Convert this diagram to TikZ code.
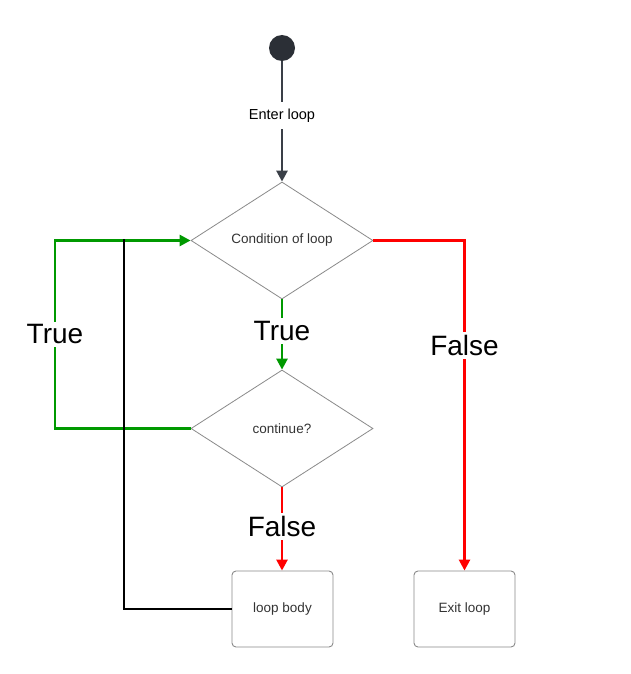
\documentclass[tikz,border=0pt]{standalone}
\usepackage{fontspec}
\setmainfont{Liberation Sans}
\usetikzlibrary{shapes.geometric,arrows.meta}
\definecolor{ink}{HTML}{3A3F47}
\definecolor{dot}{HTML}{2B2F36}
\definecolor{yes}{HTML}{009900}
\definecolor{no}{HTML}{FF0000}
\definecolor{outline}{HTML}{8A8A8A}
\definecolor{caption}{HTML}{333333}
\tikzset{
  decision/.style={diamond, draw=outline, line width=0.8pt, minimum width=182pt,
    minimum height=117pt, inner sep=0pt, font=\fontsize{13.5}{16}\selectfont, text=caption},
  action/.style={rectangle, rounded corners=4pt, draw=outline, line width=0.9pt,
    minimum width=101pt, minimum height=76pt, inner sep=0pt,
    font=\fontsize{13.5}{16}\selectfont, text=caption},
  flow/.style={line width=2.6pt, -{Triangle[length=11pt,width=11pt]}},
  bigtag/.style={fill=white, inner sep=3pt, font=\fontsize{28}{32}\selectfont, text=black},
  smalltag/.style={fill=white, inner sep=7pt, font=\fontsize{14.5}{17}\selectfont, text=black},
}
\begin{document}
\begin{tikzpicture}[x=1pt,y=-1pt]
\useasboundingbox[fill=white] (0,0) rectangle (630,674);

% nodes
\node[circle, fill=dot, minimum size=26pt, inner sep=0pt] (start) at (282,48) {};
\node[decision] (cond) at (282,240.5) {Condition of loop};
\node[decision] (cont) at (282,428.5) {continue?};
\node[action] (body) at (282.5,609) {loop body};
\node[action] (exit) at (464.5,609) {Exit loop};
\coordinate (leftturn) at (55,428.5);
\coordinate (backturn) at (124,609);

% entry
\draw[flow, ink] (start) -- node[smalltag, pos=0.45] {Enter loop} (cond.north);

% loop condition true -> continue?
\draw[flow, yes] (cond.south) -- node[bigtag, pos=0.45] {True} (cont.north);

% continue? true -> back to condition
\draw[flow, yes] (cont.west) -- (leftturn) -- node[bigtag, pos=0.5] {True} (leftturn |- cond.west) -- (cond.west);

% loop body returns to the condition
\draw[line width=2.6pt, black] (body.west) -- (backturn) -- ([yshift=1.3pt]backturn |- cond.west);

% condition false -> exit
\draw[flow, no] (cond.east) -- (exit.north |- cond.east) -- node[bigtag, pos=0.318] {False} (exit.north);

% continue? false -> loop body
\draw[flow, no] (cont.south) -- node[bigtag, pos=0.47] {False} (body.north -| cont.south);
\end{tikzpicture}
\end{document}
